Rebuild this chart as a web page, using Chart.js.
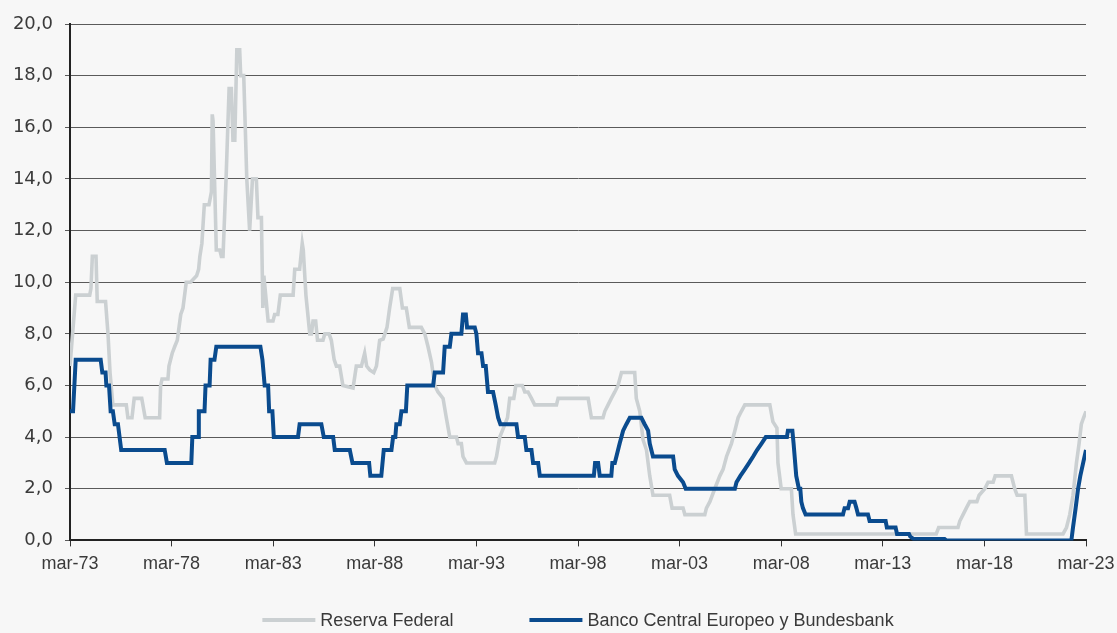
<!DOCTYPE html>
<html>
<head>
<meta charset="utf-8">
<script src="https://cdn.jsdelivr.net/npm/chart.js@4/dist/chart.umd.min.js"></script>
<style>
  html, body { margin: 0; padding: 0; background: #f7f7f7; }
  #wrap { width: 1117px; height: 633px; }
</style>
</head>
<body>
<div id="wrap"><canvas id="c" width="1117" height="633"></canvas></div>
<script>
// ---- Data (decimal years, % rates) ----
const seriesNames = ['Reserva Federal', 'Banco Central Europeo y Bundesbank'];

const tickYears = [1973.17, 1978.17, 1983.17, 1988.17, 1993.17, 1998.17, 2003.17, 2008.17, 2013.17, 2018.17, 2023.17];
const tickLabels = ['mar-73', 'mar-78', 'mar-83', 'mar-88', 'mar-93', 'mar-98', 'mar-03', 'mar-08', 'mar-13', 'mar-18', 'mar-23'];

const fedX = [1973.17,1973.45,1974.14,1974.20,1974.27,1974.45,1974.51,1974.92,1975.04,1975.14,1975.28,1975.94,1976.02,1976.22,1976.33,1976.70,1976.87,1977.58,1977.63,1977.70,1977.99,1978.04,1978.20,1978.32,1978.45,1978.62,1978.73,1978.89,1979.10,1979.40,1979.50,1979.56,1979.66,1979.78,1980.01,1980.13,1980.17,1980.21,1980.37,1980.54,1980.62,1980.70,1980.85,1981.00,1981.11,1981.19,1981.28,1981.38,1981.52,1981.57,1981.72,1981.87,1982.01,1982.15,1982.34,1982.42,1982.59,1982.66,1982.71,1982.92,1983.16,1983.24,1983.40,1983.52,1984.15,1984.23,1984.47,1984.60,1984.65,1984.78,1984.97,1985.05,1985.13,1985.26,1985.35,1985.62,1985.71,1985.92,1986.03,1986.17,1986.28,1986.44,1986.60,1987.10,1987.26,1987.51,1987.67,1987.77,1987.92,1988.12,1988.25,1988.41,1988.58,1988.77,1988.90,1989.05,1989.40,1989.53,1989.72,1989.87,1990.46,1990.63,1990.79,1990.96,1991.12,1991.28,1991.53,1991.69,1991.86,1992.19,1992.27,1992.43,1992.51,1992.68,1994.07,1994.16,1994.32,1994.45,1994.70,1994.81,1995.01,1995.11,1995.43,1995.55,1995.71,1995.88,1996.04,1997.11,1997.19,1998.67,1998.83,1999.40,1999.49,1999.65,1999.81,1999.98,2000.14,2000.31,2000.96,2001.04,2001.21,2001.37,2001.54,2001.70,2001.86,2002.68,2002.80,2003.34,2003.43,2004.41,2004.49,2004.66,2004.90,2005.15,2005.31,2005.48,2005.72,2005.89,2006.05,2006.21,2006.38,2007.61,2007.76,2007.96,2008.01,2008.17,2008.67,2008.75,2008.88,2015.80,2015.92,2016.87,2016.96,2017.12,2017.28,2017.45,2017.80,2017.91,2018.19,2018.35,2018.60,2018.70,2019.50,2019.66,2019.78,2020.16,2020.24,2022.04,2022.21,2022.37,2022.53,2022.70,2022.83,2022.94,2023.05,2023.17];
const fedY = [6.75,9.5,9.5,9.75,11.0,11.0,9.25,9.25,8.0,6.5,5.25,5.25,4.75,4.75,5.5,5.5,4.75,4.75,6.0,6.25,6.25,6.75,7.25,7.5,7.75,8.75,9.0,10.0,10.0,10.25,10.5,11.0,11.5,13.0,13.0,13.5,16.5,16.25,11.25,11.25,11.0,11.0,14.0,17.5,17.5,15.5,15.5,19.0,19.0,18.0,18.0,14.0,12.0,14.0,14.0,12.5,12.5,9.0,10.25,8.5,8.5,8.75,8.75,9.5,9.5,10.5,10.5,11.5,11.25,9.5,8.0,8.0,8.5,8.5,7.75,7.75,8.0,8.0,7.75,7.0,6.75,6.75,6.0,5.9,6.75,6.75,7.25,6.75,6.6,6.5,6.75,7.75,7.8,8.25,9.0,9.75,9.75,9.0,9.0,8.25,8.25,8.0,7.5,6.9,6.0,5.75,5.5,4.75,4.0,4.0,3.75,3.75,3.25,3.0,3.0,3.25,4.0,4.25,4.75,5.5,5.5,6.0,6.0,5.75,5.75,5.5,5.25,5.25,5.5,5.5,4.75,4.75,5.0,5.25,5.5,5.75,6.0,6.5,6.5,5.5,5.0,3.9,3.5,2.5,1.75,1.75,1.25,1.25,1.0,1.0,1.25,1.5,2.0,2.5,2.75,3.25,3.75,4.25,4.75,5.0,5.25,5.25,4.6,4.35,3.0,2.0,2.0,1.0,0.25,0.25,0.5,0.5,0.75,1.0,1.25,1.5,1.5,1.75,2.0,2.25,2.25,2.5,2.5,2.0,1.75,1.75,0.25,0.25,0.5,1.0,1.75,3.0,3.75,4.5,4.75,5.0];

const ecbX = [1973.17,1973.32,1973.45,1974.68,1974.76,1974.92,1974.96,1975.09,1975.17,1975.28,1975.37,1975.53,1975.69,1977.83,1977.94,1979.14,1979.19,1979.47,1979.51,1979.79,1979.84,1980.04,1980.09,1980.28,1980.37,1982.54,1982.64,1982.75,1982.92,1982.97,1983.13,1983.20,1984.39,1984.47,1985.54,1985.66,1986.12,1986.20,1986.94,1987.07,1987.89,1987.95,1988.49,1988.61,1988.99,1989.07,1989.18,1989.23,1989.40,1989.48,1989.70,1989.77,1991.04,1991.12,1991.53,1991.61,1991.86,1991.94,1992.43,1992.51,1992.65,1992.71,1993.09,1993.17,1993.25,1993.42,1993.50,1993.63,1993.74,1993.99,1994.12,1994.24,1994.35,1995.14,1995.22,1995.55,1995.63,1995.88,1995.96,1996.21,1996.29,1998.95,1999.01,1999.16,1999.24,1999.81,1999.86,1999.98,2000.06,2000.22,2000.39,2000.55,2000.72,2001.29,2001.45,2001.62,2001.70,2001.86,2002.85,2002.93,2003.09,2003.34,2003.47,2005.89,2005.97,2006.16,2006.38,2006.59,2006.79,2006.98,2007.20,2007.41,2008.45,2008.50,2008.72,2008.78,2008.91,2009.04,2009.11,2009.16,2009.24,2009.37,2011.21,2011.29,2011.46,2011.54,2011.78,2011.87,2011.95,2012.44,2012.52,2013.31,2013.37,2013.80,2013.87,2014.46,2014.52,2014.69,2016.21,2016.29,2022.45,2022.53,2022.66,2022.78,2022.89,2023.03,2023.17];
const ecbY = [5.0,5.0,7.0,7.0,6.5,6.5,6.0,6.0,5.0,5.0,4.5,4.5,3.5,3.5,3.0,3.0,4.0,4.0,5.0,5.0,6.0,6.0,7.0,7.0,7.5,7.5,7.0,6.0,6.0,5.0,5.0,4.0,4.0,4.5,4.5,4.0,4.0,3.5,3.5,3.0,3.0,2.5,2.5,3.5,3.5,4.0,4.0,4.5,4.5,5.0,5.0,6.0,6.0,6.5,6.5,7.5,7.5,8.0,8.0,8.75,8.75,8.25,8.25,8.0,7.25,7.25,6.75,6.75,5.75,5.75,5.25,4.75,4.5,4.5,4.0,4.0,3.5,3.5,3.0,3.0,2.5,2.5,3.0,3.0,2.5,2.5,3.0,3.0,3.25,3.75,4.25,4.5,4.75,4.75,4.5,4.25,3.75,3.25,3.25,2.75,2.5,2.25,2.0,2.0,2.25,2.5,2.75,3.0,3.25,3.5,3.75,4.0,4.0,4.25,4.25,3.75,2.5,2.0,2.0,1.5,1.25,1.0,1.0,1.25,1.25,1.5,1.5,1.25,1.0,1.0,0.75,0.75,0.5,0.5,0.25,0.25,0.15,0.05,0.05,0.0,0.0,0.5,1.25,2.0,2.5,3.0,3.5];

const toPoints = (xs, ys) => xs.map((x, i) => ({ x: x, y: ys[i] }));

const bgPlugin = {
  id: 'bg',
  beforeDraw(chart) {
    const ctx = chart.ctx;
    ctx.save();
    ctx.fillStyle = '#f7f7f7';
    ctx.fillRect(0, 0, chart.width, chart.height);
    ctx.restore();
  }
};

const legendPlugin = {
  id: 'customLegend',
  afterDraw(chart) {
    const ctx = chart.ctx;
    const ca = chart.chartArea;
    const font = '18px "Liberation Sans", Arial, sans-serif';
    ctx.save();
    ctx.font = font;
    const sample = 53, gapText = 5, gapItems = 76;
    const items = [0, 1].map(i => {
      const ds = chart.data.datasets[i];
      return { label: ds.label, color: ds.borderColor, w: sample + gapText + ctx.measureText(ds.label).width };
    });
    const total = items.reduce((s, it) => s + it.w, 0) + gapItems;
    let x = (ca.left + ca.right) / 2 - total / 2;
    const y = 620;
    items.forEach(it => {
      ctx.strokeStyle = it.color;
      ctx.lineWidth = 4;
      ctx.beginPath();
      ctx.moveTo(x, y);
      ctx.lineTo(x + sample, y);
      ctx.stroke();
      ctx.fillStyle = '#3a3a3a';
      ctx.textBaseline = 'middle';
      ctx.textAlign = 'left';
      ctx.fillText(it.label, x + sample + gapText, y + 1);
      x += it.w + gapItems;
    });
    ctx.restore();
  }
};

new Chart(document.getElementById('c'), {
  type: 'line',
  data: {
    datasets: [
      {
        label: seriesNames[0],
        data: toPoints(fedX, fedY),
        borderColor: '#cbd0d2',
        backgroundColor: '#cbd0d2',
        borderWidth: 3.6,
        pointRadius: 0,
        tension: 0,
        order: 1
      },
      {
        label: seriesNames[1],
        data: toPoints(ecbX, ecbY),
        borderColor: '#0a4b8e',
        backgroundColor: '#0a4b8e',
        borderWidth: 4,
        pointRadius: 0,
        tension: 0,
        order: 0
      }
    ]
  },
  options: {
    responsive: false,
    animation: false,
    devicePixelRatio: 1,
    layout: { padding: { top: 24, right: 31, bottom: 0, left: 0 } },
    plugins: {
      legend: { display: false },
      tooltip: { enabled: false }
    },
    scales: {
      x: {
        type: 'linear',
        min: tickYears[0],
        max: tickYears[tickYears.length - 1],
        afterBuildTicks: (scale) => { scale.ticks = tickYears.map(v => ({ value: v })); },
        afterFit: (scale) => { scale.height = 92.6; scale.paddingLeft = 0; scale.paddingRight = 0; },
        ticks: {
          autoSkip: false,
          maxRotation: 0,
          padding: 7,
          color: '#3a3a3a',
          font: { family: '"Liberation Sans", Arial, sans-serif', size: 18 },
          callback: (value, index) => tickLabels[index]
        },
        grid: { drawOnChartArea: false, drawTicks: true, tickLength: 6, color: '#333333', lineWidth: 1 },
        border: { display: true, color: '#222222', width: 2 }
      },
      y: {
        min: 0,
        max: 20,
        afterFit: (scale) => { scale.width = 70; scale.paddingTop = 0; scale.paddingBottom = 0; },
        ticks: {
          stepSize: 2,
          padding: 12,
          color: '#3a3a3a',
          font: { family: '"DejaVu Sans", sans-serif', size: 18 },
          callback: (v) => Number(v).toFixed(1).replace('.', ',')
        },
        grid: { color: '#5a5a5a', lineWidth: 1, drawTicks: true, tickLength: 5 },
        border: { display: true, color: '#222222', width: 2 }
      }
    }
  },
  plugins: [bgPlugin, legendPlugin]
});
</script>
</body>
</html>
